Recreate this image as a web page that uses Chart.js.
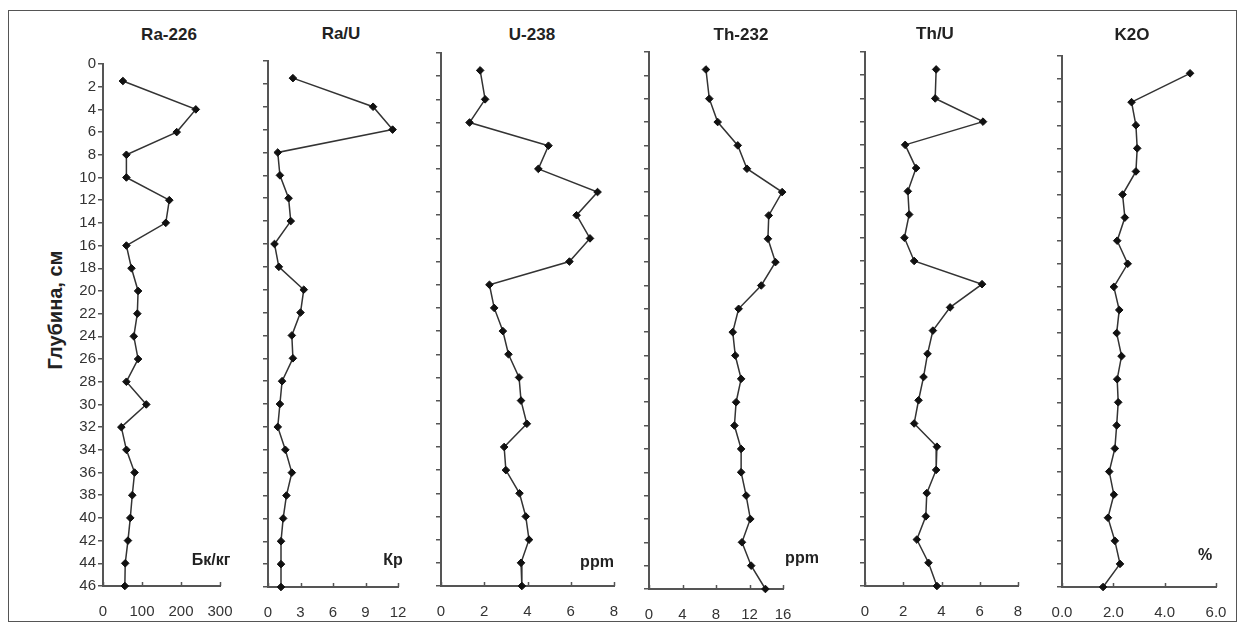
<!DOCTYPE html>
<html>
<head>
<meta charset="utf-8">
<script src="https://cdn.jsdelivr.net/npm/chart.js@4.4.1/dist/chart.umd.min.js"></script>
<style>
  html, body { margin: 0; padding: 0; background: #fff; }
  body { width: 1242px; height: 630px; overflow: hidden; position: relative;
         font-family: Arial, "Liberation Sans", sans-serif; }
  .frame { position: absolute; left: 8px; top: 10px; width: 1229px; height: 612px;
           border: 1px solid #555; box-sizing: border-box; }
  canvas { position: absolute; }
  .lbl { position: absolute; transform: translate(-50%, -50%); white-space: nowrap;
         font-weight: bold; color: #222; }
  .title { font-size: 17px; }
  .unit { font-size: 16px; }
  .ytitle { position: absolute; left: 55px; top: 310px; font-size: 20px; font-weight: bold; color: #222;
            white-space: nowrap; transform: translate(-50%, -50%) rotate(-90deg); }
</style>
</head>
<body>
<div class="frame"></div>
<div class="ytitle">Глубина, см</div>
<script>
// Sampling depths (cm) of the soil profile
const depth = [1.5, 4, 6, 8, 10, 12, 14, 16, 18, 20, 22, 24, 26, 28, 30, 32, 34, 36, 38, 40, 42, 44, 46];
const depthTicks = [0, 2, 4, 6, 8, 10, 12, 14, 16, 18, 20, 22, 24, 26, 28, 30, 32, 34, 36, 38, 40, 42, 44, 46];

// Measured values at each depth
const ra226 = [51, 238, 189, 60, 60, 170, 161, 60, 73, 90, 88, 79, 90, 60, 111, 47, 60, 81, 75, 70, 64, 57, 56];
const raU   = [2.3, 9.7, 11.5, 0.9, 1.1, 1.9, 2.1, 0.6, 1.0, 3.3, 3.0, 2.2, 2.3, 1.3, 1.1, 0.9, 1.6, 2.2, 1.7, 1.4, 1.2, 1.2, 1.2];
const u238  = [1.81, 2.04, 1.32, 4.97, 4.5, 7.24, 6.27, 6.89, 5.94, 2.24, 2.46, 2.86, 3.12, 3.61, 3.7, 3.97, 2.92, 3.0, 3.63, 3.92, 4.07, 3.7, 3.74];
const th232 = [6.8, 7.2, 8.2, 10.6, 11.7, 15.9, 14.3, 14.2, 15.1, 13.4, 10.7, 10.0, 10.3, 11.0, 10.4, 10.2, 11.0, 11.0, 11.6, 12.1, 11.1, 12.2, 13.9];
const thU   = [3.72, 3.67, 6.17, 2.1, 2.67, 2.24, 2.31, 2.06, 2.57, 6.12, 4.45, 3.55, 3.27, 3.06, 2.8, 2.57, 3.76, 3.72, 3.23, 3.18, 2.71, 3.32, 3.76];
const k2o   = [4.99, 2.71, 2.88, 2.93, 2.88, 2.36, 2.45, 2.15, 2.56, 2.02, 2.23, 2.13, 2.32, 2.15, 2.19, 2.13, 2.06, 1.84, 2.02, 1.79, 2.06, 2.26, 1.6];

// Tick labels of each horizontal axis
const ra226Ticks = [0, 100, 200, 300];
const raUTicks   = [0, 3, 6, 9, 12];
const u238Ticks  = [0, 2, 4, 6, 8];
const th232Ticks = [0, 4, 8, 12, 16];
const thUTicks   = [0, 2, 4, 6, 8];
const k2oTicks   = [0, 2, 4, 6];

// Panel titles and units
const titles = ['Ra-226', 'Ra/U', 'U-238', 'Th-232', 'Th/U', 'K2O'];
const units  = ['Бк/кг', 'Кр', 'ppm', 'ppm', '', '%'];

const AXIS = '#555';
const LINE = '#333';
const FONT = 'Arial, "Liberation Sans", sans-serif';

// Placement of each panel's plot area on the page
const layout = [
  { values: ra226, ticks: ra226Ticks, dec: 0, left: 103, right: 220, top: 61, bottom: 586, yLabels: true,  title: [169, 35], unit: [211, 560] },
  { values: raU,   ticks: raUTicks,   dec: 0, left: 268, right: 398, top: 61, bottom: 587, yLabels: false, title: [341, 34], unit: [393, 560] },
  { values: u238,  ticks: u238Ticks,  dec: 0, left: 441, right: 614, top: 53, bottom: 586, yLabels: false, title: [532, 35], unit: [597, 562] },
  { values: th232, ticks: th232Ticks, dec: 0, left: 649, right: 783, top: 52, bottom: 589, yLabels: false, title: [741, 35], unit: [802, 558] },
  { values: thU,   ticks: thUTicks,   dec: 0, left: 865, right: 1018, top: 52, bottom: 586, yLabels: false, title: [935, 34], unit: [0, 0] },
  { values: k2o,   ticks: k2oTicks,   dec: 1, left: 1062, right: 1216, top: 56, bottom: 587, yLabels: false, title: [1132, 35], unit: [1205, 555] }
];

// Short tick marks pointing up from the horizontal axis
const innerTicks = {
  id: 'innerTicks',
  afterDraw(chart) {
    const sx = chart.scales.x;
    const ctx = chart.ctx;
    ctx.save();
    ctx.strokeStyle = AXIS;
    ctx.lineWidth = 1.5;
    sx.ticks.forEach(t => {
      const px = Math.round(sx.getPixelForValue(t.value)) + 0.5;
      ctx.beginPath();
      ctx.moveTo(px, sx.top);
      ctx.lineTo(px, sx.top - 4);
      ctx.stroke();
    });
    ctx.restore();
  }
};

layout.forEach((p, i) => {
  const yW = p.yLabels ? 45 : 10;
  const padTop = 8, padRight = 24, xH = 40;
  const cLeft = p.left - yW;
  const cTop = p.top - padTop;
  const cW = (p.right - p.left) + yW + padRight;
  const cH = (p.bottom - p.top) + padTop + xH;

  const cv = document.createElement('canvas');
  cv.width = cW; cv.height = cH;
  cv.style.left = cLeft + 'px';
  cv.style.top = cTop + 'px';
  cv.style.width = cW + 'px';
  cv.style.height = cH + 'px';
  document.body.appendChild(cv);

  const xMax = p.ticks[p.ticks.length - 1];

  new Chart(cv, {
    type: 'scatter',
    data: {
      datasets: [{
        data: depth.map((d, k) => ({ x: p.values[k], y: d })),
        showLine: true,
        borderColor: LINE,
        borderWidth: 1.5,
        pointStyle: 'rectRot',
        pointRadius: 3.8,
        pointBackgroundColor: '#111',
        pointBorderColor: '#111',
        pointBorderWidth: 1,
        clip: false
      }]
    },
    options: {
      responsive: false,
      animation: false,
      events: [],
      layout: { padding: { top: padTop, right: padRight, left: 0, bottom: 0 } },
      plugins: { legend: { display: false }, tooltip: { enabled: false } },
      scales: {
        x: {
          type: 'linear',
          min: 0, max: xMax,
          afterBuildTicks: s => { s.ticks = p.ticks.map(v => ({ value: v })); },
          afterFit: s => { s.height = xH; s.paddingLeft = 0; s.paddingRight = 0; },
          grid: { drawOnChartArea: false, drawTicks: false },
          border: { color: AXIS, width: 2 },
          ticks: {
            padding: 17,
            color: '#333',
            font: { family: FONT, size: 15 },
            maxRotation: 0,
            autoSkip: false,
            callback: v => Number(v).toFixed(p.dec)
          }
        },
        y: {
          type: 'linear',
          reverse: true,
          min: 0, max: 46,
          afterBuildTicks: s => { s.ticks = depthTicks.map(v => ({ value: v })); },
          afterFit: s => { s.width = yW; },
          grid: { drawOnChartArea: false, drawTicks: true, tickLength: 5, color: AXIS, lineWidth: 1.5 },
          border: { color: AXIS, width: 2 },
          ticks: {
            display: p.yLabels,
            padding: 2,
            color: '#333',
            font: { family: FONT, size: 15 },
            autoSkip: false
          }
        }
      }
    },
    plugins: [innerTicks]
  });

  const t = document.createElement('div');
  t.className = 'lbl title';
  t.textContent = titles[i];
  t.style.left = p.title[0] + 'px';
  t.style.top = p.title[1] + 'px';
  document.body.appendChild(t);

  if (units[i]) {
    const u = document.createElement('div');
    u.className = 'lbl unit';
    u.textContent = units[i];
    u.style.left = p.unit[0] + 'px';
    u.style.top = p.unit[1] + 'px';
    document.body.appendChild(u);
  }
});
</script>
</body>
</html>
